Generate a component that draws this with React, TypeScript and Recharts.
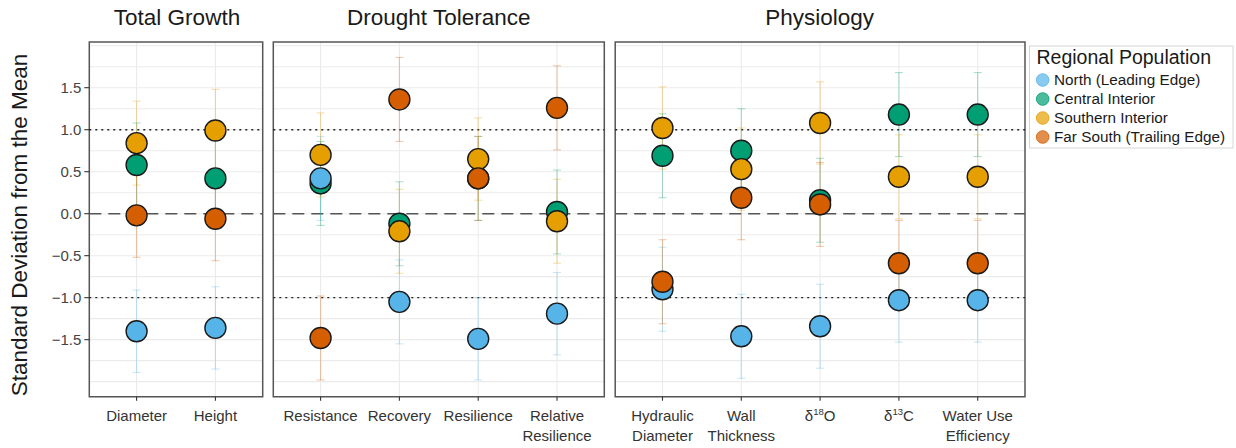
import React from 'react';
import {
  ScatterChart,
  Scatter,
  XAxis,
  YAxis,
  CartesianGrid,
  ReferenceLine,
  ReferenceArea,
  ErrorBar,
} from 'recharts';

const FONT = '"Liberation Sans", Arial, Helvetica, sans-serif';

// ---- categories / tick labels (per panel) ----
const growthLabels = ['Diameter', 'Height'];
const droughtLabels = ['Resistance', 'Recovery', 'Resilience', 'Relative\nResilience'];
const physioLabels = ['Hydraulic\nDiameter', 'Wall\nThickness', 'δ18O', 'δ13C', 'Water Use\nEfficiency'];
const panelTitles = ['Total Growth', 'Drought Tolerance', 'Physiology'];
const yTicks = [-1.5, -1, -0.5, 0, 0.5, 1, 1.5];
const yGrid = [-2, -1.75, -1.5, -1.25, -1, -0.75, -0.5, -0.25, 0, 0.25, 0.5, 0.75, 1, 1.25, 1.5, 1.75, 2];
const yTitle = 'Standard Deviation from the Mean';
const legendTitle = 'Regional Population';
const populations = ['North (Leading Edge)', 'Central Interior', 'Southern Interior', 'Far South (Trailing Edge)'];

// ---- values, order: Diameter, Height | Resistance, Recovery, Resilience, Rel. Resilience | Hydraulic, Wall, d18O, d13C, WUE
const northMean = [-1.40, -1.36, 0.42, -1.05, -1.49, -1.19, -0.90, -1.46, -1.34, -1.03, -1.03];
const northErr = [0.49, 0.49, 0.50, 0.50, 0.49, 0.49, 0.50, 0.50, 0.50, 0.50, 0.50];
const centralMean = [0.58, 0.42, 0.36, -0.12, 0.42, 0.02, 0.69, 0.75, 0.16, 1.18, 1.18];
const centralErr = [0.50, 0.50, 0.50, 0.50, 0.50, 0.50, 0.50, 0.50, 0.50, 0.50, 0.50];
const southernMean = [0.84, 0.99, 0.70, -0.21, 0.65, -0.09, 1.02, 0.53, 1.08, 0.44, 0.44];
const southernErr = [0.50, 0.49, 0.50, 0.50, 0.49, 0.50, 0.49, 0.49, 0.49, 0.50, 0.50];
const farSouthMean = [-0.02, -0.06, -1.48, 1.36, 0.42, 1.26, -0.81, 0.19, 0.11, -0.59, -0.59];
const farSouthErr = [0.50, 0.50, 0.50, 0.50, 0.50, 0.50, 0.50, 0.50, 0.50, 0.51, 0.51];

const colors = ['#56B4E9', '#009E73', '#E69F00', '#D55E00'];
const errColors = ['rgba(86,180,233,0.32)', 'rgba(0,158,115,0.32)', 'rgba(230,159,0,0.32)', 'rgba(213,94,0,0.32)'];

const seriesMeans = [northMean, centralMean, southernMean, farSouthMean];
const seriesErrs = [northErr, centralErr, southernErr, farSouthErr];
const drawOrder = [1, 0, 2, 3];

const Y_DOMAIN: [number, number] = [-2.179, 2.044];
const PLOT_TOP = 42;
const PLOT_BOTTOM = 396.7;
const H = 448;

const makeTick = (labels: string[]) => (props: any) => {
  const { x, y, payload } = props;
  const label = labels[Math.round(payload.value) - 1] ?? '';
  const lines = label.split('\n');
  const base = y + 18.3;
  return (
    <g>
      {lines.map((line, i) => {
        const m = line.match(/^δ(\d+)(.*)$/);
        return (
          <text key={i} x={x} y={base + i * 19.5} textAnchor="middle" fill="#333" fontSize={15} fontFamily={FONT}>
            {m ? (
              <>
                <tspan>δ</tspan>
                <tspan fontSize={9.5} dy={-6}>{m[1]}</tspan>
                <tspan dy={6}>{m[2]}</tspan>
              </>
            ) : (
              line
            )}
          </text>
        );
      })}
    </g>
  );
};

const noShape = () => <g />;
const dotShape = (color: string) => (props: any) => (
  <circle cx={props.cx} cy={props.cy} r={10.5} fill={color} stroke="#1a1a1a" strokeWidth={1.4} />
);

type PanelProps = {
  left: number;
  width: number;
  mLeft: number;
  mRight: number;
  labels: string[];
  offset: number;
  showY: boolean;
};

function Panel({ left, width, mLeft, mRight, labels, offset, showY }: PanelProps) {
  const n = labels.length;
  const xs = labels.map((_, i) => i + 1);
  const data = seriesMeans.map((means, s) =>
    labels.map((_, i) => ({ x: i + 1, y: means[offset + i], err: seriesErrs[s][offset + i] }))
  );
  const xDomain: [number, number] = [0.4, n + 0.6];
  return (
    <div style={{ position: 'absolute', left, top: 0 }}>
      <ScatterChart
        width={width}
        height={H}
        margin={{ top: PLOT_TOP, right: mRight, left: showY ? 0 : mLeft, bottom: 0 }}
      >
        <CartesianGrid stroke="#ebebeb" strokeWidth={1.1} horizontalValues={yGrid} verticalValues={xs} />
        <XAxis
          type="number"
          dataKey="x"
          domain={xDomain}
          ticks={xs}
          interval={0}
          allowDataOverflow
          height={H - PLOT_BOTTOM}
          tickSize={4}
          axisLine={false}
          tickLine={{ stroke: '#333', strokeWidth: 1.1 }}
          tick={makeTick(labels)}
        />
        <YAxis
          type="number"
          dataKey="y"
          domain={Y_DOMAIN}
          ticks={yTicks}
          interval={0}
          allowDataOverflow
          hide={!showY}
          width={showY ? mLeft : 0}
          tickSize={5}
          tickMargin={3}
          axisLine={false}
          tickLine={{ stroke: '#333', strokeWidth: 1.1 }}
          tick={{ fill: '#444', fontSize: 15, fontFamily: FONT }}
          tickFormatter={(v: number) => (v < 0 ? '\u2212' + Math.abs(v).toFixed(1) : v.toFixed(1))}
        />
        <ReferenceLine y={1} stroke="#222" strokeWidth={1.4} strokeDasharray="2 4" />
        <ReferenceLine y={0} stroke="#555" strokeWidth={1.6} strokeDasharray="12 7" />
        <ReferenceLine y={-1} stroke="#222" strokeWidth={1.4} strokeDasharray="2 4" />
        {[0, 1, 2, 3].map((s) => (
          <Scatter key={'e' + s} data={data[s]} dataKey="y" isAnimationActive={false} shape={noShape}>
            <ErrorBar dataKey="err" direction="y" width={4} stroke={errColors[s]} strokeWidth={1.1} />
          </Scatter>
        ))}
        {drawOrder.map((s) => (
          <Scatter key={'p' + s} data={data[s]} dataKey="y" isAnimationActive={false} shape={dotShape(colors[s])} />
        ))}
        <ReferenceArea
          x1={xDomain[0]}
          x2={xDomain[1]}
          y1={Y_DOMAIN[0]}
          y2={Y_DOMAIN[1]}
          fill="none"
          fillOpacity={0}
          stroke="#555"
          strokeWidth={1.5}
        />
      </ScatterChart>
    </div>
  );
}

export default function App() {
  return (
    <div style={{ position: 'absolute', left: 0, top: 0, width: 1236, height: 448, background: '#fff', fontFamily: FONT }}>
      <Panel left={0} width={275} mLeft={89.3} mRight={12.3} labels={growthLabels} offset={0} showY={true} />
      <Panel left={263} width={351} mLeft={10.3} mRight={9.7} labels={droughtLabels} offset={2} showY={false} />
      <Panel left={604.5} width={430} mLeft={10.2} mRight={10} labels={physioLabels} offset={6} showY={false} />
      <svg
        width={1236}
        height={448}
        style={{ position: 'absolute', left: 0, top: 0, pointerEvents: 'none' }}
      >
        <text x={177} y={25} textAnchor="middle" fontSize={22.5} fill="#1a1a1a" fontFamily={FONT}>{panelTitles[0]}</text>
        <text x={438.8} y={25} textAnchor="middle" fontSize={22.5} fill="#1a1a1a" fontFamily={FONT}>{panelTitles[1]}</text>
        <text x={819.6} y={25} textAnchor="middle" fontSize={22.5} fill="#1a1a1a" fontFamily={FONT}>{panelTitles[2]}</text>
        <text transform="translate(27,225) rotate(-90)" textAnchor="middle" fontSize={22.5} fill="#1a1a1a" fontFamily={FONT}>{yTitle}</text>
        <rect x={1029.5} y={46} width={203.5} height={102} fill="#fff" stroke="#d6d6d6" strokeWidth={1} />
        <text x={1036.5} y={64} fontSize={19.5} fill="#1a1a1a" fontFamily={FONT}>{legendTitle}</text>
        {populations.map((p, i) => {
          const cy = 80 + i * 19;
          return (
            <g key={p}>
              <circle cx={1042.7} cy={cy} r={6.3} fill={colors[i]} fillOpacity={0.7} stroke={colors[i]} strokeOpacity={0.8} strokeWidth={1} />
              <text x={1054} y={cy + 5.3} fontSize={15.3} fill="#1a1a1a" fontFamily={FONT}>{p}</text>
            </g>
          );
        })}
      </svg>
    </div>
  );
}
